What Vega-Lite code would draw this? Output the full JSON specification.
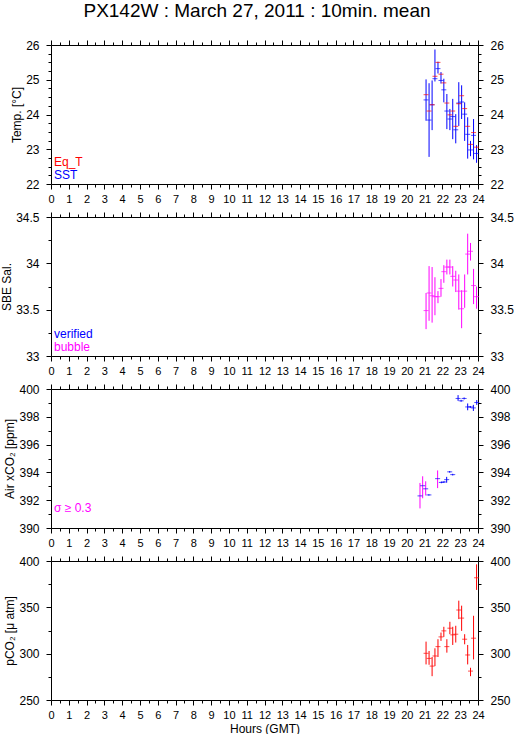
{
  "$schema": "https://vega.github.io/schema/vega-lite/v6.json",
  "background": "white",
  "padding": {"left": 0, "top": 2, "right": 0, "bottom": 0},
  "title": {"text": "PX142W : March 27, 2011 : 10min. mean", "font": "Liberation Sans", "fontSize": 19, "fontWeight": "normal", "color": "black", "anchor": "middle", "offset": 18},
  "spacing": 7,
  "config": {
    "view": {"stroke": null},
    "font": "Liberation Sans",
    "axis": {"domainColor": "black", "tickColor": "black", "labelColor": "black", "titleColor": "black", "labelFont": "Liberation Sans", "titleFont": "Liberation Sans", "titleFontSize": 12, "titleFontWeight": "normal", "grid": false, "tickSize": 5, "labelOverlap": false, "labelFlush": false, "domainWidth": 1, "tickWidth": 1},
    "axisX": {"labelFontSize": 11, "labelPadding": 4},
    "axisY": {"labelFontSize": 12, "labelPadding": 7, "titlePadding": 2},
    "legend": {"title": null, "symbolType": "circle", "symbolSize": 0, "symbolOpacity": 0, "symbolStrokeWidth": 0, "labelOffset": -12, "labelFont": "Liberation Sans", "labelFontSize": 12, "padding": 0, "rowPadding": 1}
  },
  "datasets": {
    "p1": [
      {"hour": 21.08, "var": "SST", "v": 24.42, "lo": 23.82, "hi": 25.01},
      {"hour": 21.25, "var": "SST", "v": 23.84, "lo": 22.78, "hi": 24.9},
      {"hour": 21.42, "var": "SST", "v": 24.28, "lo": 23.55, "hi": 24.98},
      {"hour": 21.58, "var": "SST", "v": 25.03, "lo": 24.95, "hi": 25.87},
      {"hour": 21.75, "var": "SST", "v": 25.32, "lo": 25.18, "hi": 25.52},
      {"hour": 21.92, "var": "SST", "v": 24.98, "lo": 24.89, "hi": 25.22},
      {"hour": 22.08, "var": "SST", "v": 24.71, "lo": 24.35, "hi": 25.03},
      {"hour": 22.25, "var": "SST", "v": 24.1, "lo": 23.58, "hi": 24.59},
      {"hour": 22.42, "var": "SST", "v": 23.87, "lo": 23.55, "hi": 24.16},
      {"hour": 22.58, "var": "SST", "v": 23.94, "lo": 23.29, "hi": 24.45},
      {"hour": 22.75, "var": "SST", "v": 23.56, "lo": 23.17, "hi": 24.01},
      {"hour": 22.92, "var": "SST", "v": 24.33, "lo": 23.67, "hi": 24.93},
      {"hour": 23.08, "var": "SST", "v": 24.36, "lo": 23.87, "hi": 24.84},
      {"hour": 23.25, "var": "SST", "v": 24.01, "lo": 23.24, "hi": 24.35},
      {"hour": 23.42, "var": "SST", "v": 23.43, "lo": 22.73, "hi": 23.92},
      {"hour": 23.58, "var": "SST", "v": 22.98, "lo": 22.8, "hi": 23.24},
      {"hour": 23.75, "var": "SST", "v": 23.4, "lo": 22.71, "hi": 23.87},
      {"hour": 23.92, "var": "SST", "v": 22.88, "lo": 22.61, "hi": 23.12},
      {"hour": 21.08, "var": "Eq_T", "v": 24.57},
      {"hour": 21.25, "var": "Eq_T", "v": 24.1},
      {"hour": 21.42, "var": "Eq_T", "v": 24.28},
      {"hour": 21.58, "var": "Eq_T", "v": 25.1},
      {"hour": 21.75, "var": "Eq_T", "v": 25.5},
      {"hour": 21.92, "var": "Eq_T", "v": 25.16},
      {"hour": 22.08, "var": "Eq_T", "v": 24.91},
      {"hour": 22.25, "var": "Eq_T", "v": 24.33},
      {"hour": 22.42, "var": "Eq_T", "v": 23.99},
      {"hour": 22.58, "var": "Eq_T", "v": 24.1},
      {"hour": 22.75, "var": "Eq_T", "v": 23.66},
      {"hour": 22.92, "var": "Eq_T", "v": 24.31},
      {"hour": 23.08, "var": "Eq_T", "v": 24.54},
      {"hour": 23.25, "var": "Eq_T", "v": 24.17},
      {"hour": 23.42, "var": "Eq_T", "v": 23.66},
      {"hour": 23.58, "var": "Eq_T", "v": 23.14},
      {"hour": 23.75, "var": "Eq_T", "v": 23.48},
      {"hour": 23.92, "var": "Eq_T", "v": 23.06}
    ],
    "p2": [
      {"hour": 21.08, "status": "bubble", "v": 33.49, "lo": 33.29, "hi": 33.68},
      {"hour": 21.25, "status": "bubble", "v": 33.68, "lo": 33.38, "hi": 33.97},
      {"hour": 21.42, "status": "bubble", "v": 33.65, "lo": 33.36, "hi": 33.96},
      {"hour": 21.58, "status": "bubble", "v": 33.64, "lo": 33.44, "hi": 33.85},
      {"hour": 21.75, "status": "bubble", "v": 33.64, "lo": 33.57, "hi": 33.7},
      {"hour": 21.92, "status": "bubble", "v": 33.73, "lo": 33.64, "hi": 33.83},
      {"hour": 22.08, "status": "bubble", "v": 33.91, "lo": 33.79, "hi": 33.98},
      {"hour": 22.25, "status": "bubble", "v": 33.96, "lo": 33.88, "hi": 34.04},
      {"hour": 22.42, "status": "bubble", "v": 33.96, "lo": 33.88, "hi": 34.04},
      {"hour": 22.58, "status": "bubble", "v": 33.86, "lo": 33.75, "hi": 33.97},
      {"hour": 22.75, "status": "bubble", "v": 33.82, "lo": 33.69, "hi": 33.92},
      {"hour": 22.92, "status": "bubble", "v": 33.7, "lo": 33.5, "hi": 33.88},
      {"hour": 23.08, "status": "bubble", "v": 33.51, "lo": 33.3, "hi": 33.71},
      {"hour": 23.25, "status": "bubble", "v": 33.7, "lo": 33.52, "hi": 33.88},
      {"hour": 23.42, "status": "bubble", "v": 34.1, "lo": 33.88, "hi": 34.32},
      {"hour": 23.58, "status": "bubble", "v": 34.13, "lo": 34.03, "hi": 34.22},
      {"hour": 23.75, "status": "bubble", "v": 33.76, "lo": 33.56, "hi": 33.94},
      {"hour": 23.92, "status": "bubble", "v": 33.64, "lo": 33.51, "hi": 33.75}
    ],
    "p3": [
      {"hour": 20.74, "flag": "σ ≥ 0.3", "v": 392.31, "lo": 391.41, "hi": 393.24},
      {"hour": 20.89, "flag": "σ ≥ 0.3", "v": 393.04, "lo": 392.14, "hi": 393.72},
      {"hour": 21.06, "flag": "σ ≥ 0.3", "v": 392.82, "lo": 392.34, "hi": 393.36},
      {"hour": 21.24, "flag": "normal", "v": 392.38, "lo": 392.33, "hi": 392.43},
      {"hour": 21.73, "flag": "σ ≥ 0.3", "v": 393.55, "lo": 392.87, "hi": 394.14},
      {"hour": 21.94, "flag": "normal", "v": 393.28, "lo": 393.22, "hi": 393.34},
      {"hour": 22.09, "flag": "normal", "v": 393.31, "lo": 393.25, "hi": 393.37},
      {"hour": 22.24, "flag": "normal", "v": 393.48, "lo": 393.26, "hi": 393.68},
      {"hour": 22.41, "flag": "normal", "v": 394.04, "lo": 393.98, "hi": 394.1},
      {"hour": 22.58, "flag": "normal", "v": 393.84, "lo": 393.78, "hi": 393.9},
      {"hour": 22.88, "flag": "normal", "v": 399.32, "lo": 399.15, "hi": 399.56},
      {"hour": 23.05, "flag": "normal", "v": 399.15, "lo": 399.08, "hi": 399.22},
      {"hour": 23.22, "flag": "normal", "v": 399.32, "lo": 399.25, "hi": 399.39},
      {"hour": 23.42, "flag": "normal", "v": 398.71, "lo": 398.47, "hi": 398.96},
      {"hour": 23.57, "flag": "normal", "v": 398.71, "lo": 398.64, "hi": 398.78},
      {"hour": 23.74, "flag": "normal", "v": 398.64, "lo": 398.42, "hi": 398.86},
      {"hour": 23.93, "flag": "normal", "v": 399.03, "lo": 398.86, "hi": 399.2}
    ],
    "p4": [
      {"hour": 21.08, "v": 300.4, "lo": 288.4, "hi": 313.0},
      {"hour": 21.25, "v": 294.9, "lo": 288.0, "hi": 302.9},
      {"hour": 21.42, "v": 286.6, "lo": 275.7, "hi": 296.4},
      {"hour": 21.58, "v": 297.5, "lo": 286.6, "hi": 305.8},
      {"hour": 21.75, "v": 307.6, "lo": 296.4, "hi": 315.6},
      {"hour": 21.92, "v": 318.1, "lo": 313.8, "hi": 322.8},
      {"hour": 22.08, "v": 324.6, "lo": 318.1, "hi": 329.0},
      {"hour": 22.25, "v": 307.6, "lo": 301.1, "hi": 315.6},
      {"hour": 22.42, "v": 327.5, "lo": 321.0, "hi": 334.4},
      {"hour": 22.58, "v": 320.3, "lo": 309.4, "hi": 329.0},
      {"hour": 22.75, "v": 321.0, "lo": 312.0, "hi": 330.1},
      {"hour": 22.92, "v": 347.1, "lo": 337.3, "hi": 357.2},
      {"hour": 23.08, "v": 338.4, "lo": 324.6, "hi": 351.8},
      {"hour": 23.25, "v": 315.6, "lo": 310.1, "hi": 321.0},
      {"hour": 23.42, "v": 298.6, "lo": 288.4, "hi": 309.4},
      {"hour": 23.58, "v": 281.2, "lo": 275.7, "hi": 284.8},
      {"hour": 23.75, "v": 316.7, "lo": 293.8, "hi": 340.9},
      {"hour": 23.92, "v": 381.9, "lo": 368.8, "hi": 396.4}
    ]
  },
  "vconcat": [
    {
      "width": 427, "height": 139,
      "resolve": {"axis": {"x": "independent", "y": "independent"}},
      "layer": [
        {
          "data": {"name": "p1"},
          "transform": [{"filter": "datum.var === 'SST'"}],
          "mark": {"type": "rule", "strokeWidth": 1},
          "encoding": {
            "x": {"field": "hour", "type": "quantitative", "scale": {"domain": [0, 24], "nice": false, "zero": false},
              "axis": {"orient": "bottom", "title": null, "values": [0,0.5,1,1.5,2,2.5,3,3.5,4,4.5,5,5.5,6,6.5,7,7.5,8,8.5,9,9.5,10,10.5,11,11.5,12,12.5,13,13.5,14,14.5,15,15.5,16,16.5,17,17.5,18,18.5,19,19.5,20,20.5,21,21.5,22,22.5,23,23.5,24],
                "labelExpr": "datum.value % 1 === 0 ? '' + datum.value : ''",
                "tickSize": {"expr": "datum.value % 1 === 0 ? 5 : 3"}}},
            "y": {"field": "lo", "type": "quantitative", "scale": {"domain": [22, 26], "nice": false, "zero": false},
              "axis": {"orient": "left", "title": "Temp. [°C]", "values": [22,22.25,22.5,22.75,23,23.25,23.5,23.75,24,24.25,24.5,24.75,25,25.25,25.5,25.75,26],
                "labelExpr": "datum.value % 1 === 0 ? '' + datum.value : ''",
                "tickSize": {"expr": "datum.value % 1 === 0 ? 5 : 3"}}},
            "y2": {"field": "hi"},
            "color": {"field": "var", "type": "nominal", "scale": {"domain": ["Eq_T", "SST"], "range": ["#ff0000", "#0000ff"]},
              "legend": {"orient": "bottom-left", "offset": 3, "symbolType": "circle", "symbolSize": 0, "labelOffset": -12, "labelColor": {"expr": "datum.value === 'Eq_T' ? '#ff0000' : '#0000ff'"}}}
          }
        },
        {
          "data": {"name": "p1"},
          "mark": {"type": "tick", "orient": "horizontal", "size": 5, "thickness": 1},
          "encoding": {
            "x": {"field": "hour", "type": "quantitative", "scale": {"domain": [0, 24], "nice": false, "zero": false},
              "axis": {"orient": "top", "title": null, "labels": false, "values": [0,0.5,1,1.5,2,2.5,3,3.5,4,4.5,5,5.5,6,6.5,7,7.5,8,8.5,9,9.5,10,10.5,11,11.5,12,12.5,13,13.5,14,14.5,15,15.5,16,16.5,17,17.5,18,18.5,19,19.5,20,20.5,21,21.5,22,22.5,23,23.5,24],
                "tickSize": {"expr": "datum.value % 1 === 0 ? 5 : 3"}}},
            "y": {"field": "v", "type": "quantitative", "scale": {"domain": [22, 26], "nice": false, "zero": false},
              "axis": {"orient": "right", "title": null, "values": [22,22.25,22.5,22.75,23,23.25,23.5,23.75,24,24.25,24.5,24.75,25,25.25,25.5,25.75,26],
                "labelExpr": "datum.value % 1 === 0 ? '' + datum.value : ''",
                "tickSize": {"expr": "datum.value % 1 === 0 ? 5 : 3"}}},
            "color": {"field": "var", "type": "nominal", "scale": {"domain": ["Eq_T", "SST"], "range": ["#ff0000", "#0000ff"]},
              "legend": {"orient": "bottom-left", "offset": 3, "symbolType": "circle", "symbolSize": 0, "labelOffset": -12, "labelColor": {"expr": "datum.value === 'Eq_T' ? '#ff0000' : '#0000ff'"}}}
          }
        }
      ]
    },
    {
      "width": 427, "height": 139,
      "resolve": {"axis": {"x": "independent", "y": "independent"}},
      "layer": [
        {
          "data": {"name": "p2"},
          "mark": {"type": "rule", "strokeWidth": 1},
          "encoding": {
            "x": {"field": "hour", "type": "quantitative", "scale": {"domain": [0, 24], "nice": false, "zero": false},
              "axis": {"orient": "bottom", "title": null, "values": [0,0.5,1,1.5,2,2.5,3,3.5,4,4.5,5,5.5,6,6.5,7,7.5,8,8.5,9,9.5,10,10.5,11,11.5,12,12.5,13,13.5,14,14.5,15,15.5,16,16.5,17,17.5,18,18.5,19,19.5,20,20.5,21,21.5,22,22.5,23,23.5,24],
                "labelExpr": "datum.value % 1 === 0 ? '' + datum.value : ''",
                "tickSize": {"expr": "datum.value % 1 === 0 ? 5 : 3"}}},
            "y": {"field": "lo", "type": "quantitative", "scale": {"domain": [33, 34.5], "nice": false, "zero": false},
              "axis": {"orient": "left", "title": "SBE Sal.", "values": [33,33.25,33.5,33.75,34,34.25,34.5],
                "labelExpr": "(datum.value * 2) % 1 === 0 ? '' + datum.value : ''",
                "tickSize": {"expr": "(datum.value * 2) % 1 === 0 ? 5 : 3"}}},
            "y2": {"field": "hi"},
            "color": {"field": "status", "type": "nominal", "scale": {"domain": ["verified", "bubble"], "range": ["#0000ff", "#ff00ff"]},
              "legend": {"orient": "bottom-left", "offset": 3, "symbolType": "circle", "symbolSize": 0, "labelOffset": -12, "labelColor": {"expr": "datum.value === 'verified' ? '#0000ff' : '#ff00ff'"}}}
          }
        },
        {
          "data": {"name": "p2"},
          "mark": {"type": "tick", "orient": "horizontal", "size": 5, "thickness": 1},
          "encoding": {
            "x": {"field": "hour", "type": "quantitative", "scale": {"domain": [0, 24], "nice": false, "zero": false},
              "axis": {"orient": "top", "title": null, "labels": false, "values": [0,0.5,1,1.5,2,2.5,3,3.5,4,4.5,5,5.5,6,6.5,7,7.5,8,8.5,9,9.5,10,10.5,11,11.5,12,12.5,13,13.5,14,14.5,15,15.5,16,16.5,17,17.5,18,18.5,19,19.5,20,20.5,21,21.5,22,22.5,23,23.5,24],
                "tickSize": {"expr": "datum.value % 1 === 0 ? 5 : 3"}}},
            "y": {"field": "v", "type": "quantitative", "scale": {"domain": [33, 34.5], "nice": false, "zero": false},
              "axis": {"orient": "right", "title": null, "values": [33,33.25,33.5,33.75,34,34.25,34.5],
                "labelExpr": "(datum.value * 2) % 1 === 0 ? '' + datum.value : ''",
                "tickSize": {"expr": "(datum.value * 2) % 1 === 0 ? 5 : 3"}}},
            "color": {"field": "status", "type": "nominal", "scale": {"domain": ["verified", "bubble"], "range": ["#0000ff", "#ff00ff"]},
              "legend": {"orient": "bottom-left", "offset": 3, "symbolType": "circle", "symbolSize": 0, "labelOffset": -12, "labelColor": {"expr": "datum.value === 'verified' ? '#0000ff' : '#ff00ff'"}}}
          }
        }
      ]
    },
    {
      "width": 427, "height": 139,
      "resolve": {"axis": {"x": "independent", "y": "independent"}},
      "layer": [
        {
          "data": {"name": "p3"},
          "mark": {"type": "rule", "strokeWidth": 1},
          "encoding": {
            "x": {"field": "hour", "type": "quantitative", "scale": {"domain": [0, 24], "nice": false, "zero": false},
              "axis": {"orient": "bottom", "title": null, "values": [0,0.5,1,1.5,2,2.5,3,3.5,4,4.5,5,5.5,6,6.5,7,7.5,8,8.5,9,9.5,10,10.5,11,11.5,12,12.5,13,13.5,14,14.5,15,15.5,16,16.5,17,17.5,18,18.5,19,19.5,20,20.5,21,21.5,22,22.5,23,23.5,24],
                "labelExpr": "datum.value % 1 === 0 ? '' + datum.value : ''",
                "tickSize": {"expr": "datum.value % 1 === 0 ? 5 : 3"}}},
            "y": {"field": "lo", "type": "quantitative", "scale": {"domain": [390, 400], "nice": false, "zero": false},
              "axis": {"orient": "left", "title": "Air xCO₂ [ppm]", "values": [390,391,392,393,394,395,396,397,398,399,400],
                "labelExpr": "datum.value % 2 === 0 ? '' + datum.value : ''",
                "tickSize": {"expr": "datum.value % 2 === 0 ? 5 : 3"}}},
            "y2": {"field": "hi"},
            "color": {"field": "flag", "type": "nominal", "scale": {"domain": ["σ ≥ 0.3", "normal"], "range": ["#ff00ff", "#0000ff"]},
              "legend": {"orient": "none", "legendX": 3, "legendY": 113, "values": ["σ ≥ 0.3"], "symbolType": "circle", "symbolSize": 0, "labelOffset": -12, "labelColor": "#ff00ff"}}
          }
        },
        {
          "data": {"name": "p3"},
          "mark": {"type": "tick", "orient": "horizontal", "size": 5, "thickness": 1, "color": "#0000ff"},
          "encoding": {
            "x": {"field": "hour", "type": "quantitative", "scale": {"domain": [0, 24], "nice": false, "zero": false},
              "axis": {"orient": "top", "title": null, "labels": false, "values": [0,0.5,1,1.5,2,2.5,3,3.5,4,4.5,5,5.5,6,6.5,7,7.5,8,8.5,9,9.5,10,10.5,11,11.5,12,12.5,13,13.5,14,14.5,15,15.5,16,16.5,17,17.5,18,18.5,19,19.5,20,20.5,21,21.5,22,22.5,23,23.5,24],
                "tickSize": {"expr": "datum.value % 1 === 0 ? 5 : 3"}}},
            "y": {"field": "v", "type": "quantitative", "scale": {"domain": [390, 400], "nice": false, "zero": false},
              "axis": {"orient": "right", "title": null, "values": [390,391,392,393,394,395,396,397,398,399,400],
                "labelExpr": "datum.value % 2 === 0 ? '' + datum.value : ''",
                "tickSize": {"expr": "datum.value % 2 === 0 ? 5 : 3"}}}
          }
        }
      ]
    },
    {
      "width": 427, "height": 139,
      "resolve": {"axis": {"x": "independent", "y": "independent"}},
      "layer": [
        {
          "data": {"name": "p4"},
          "mark": {"type": "rule", "strokeWidth": 1, "color": "#ff0000"},
          "encoding": {
            "x": {"field": "hour", "type": "quantitative", "scale": {"domain": [0, 24], "nice": false, "zero": false},
              "axis": {"orient": "bottom", "title": "Hours (GMT)", "titlePadding": 3, "titleFontSize": 12, "values": [0,0.5,1,1.5,2,2.5,3,3.5,4,4.5,5,5.5,6,6.5,7,7.5,8,8.5,9,9.5,10,10.5,11,11.5,12,12.5,13,13.5,14,14.5,15,15.5,16,16.5,17,17.5,18,18.5,19,19.5,20,20.5,21,21.5,22,22.5,23,23.5,24],
                "labelExpr": "datum.value % 1 === 0 ? '' + datum.value : ''",
                "tickSize": {"expr": "datum.value % 1 === 0 ? 5 : 3"}}},
            "y": {"field": "lo", "type": "quantitative", "scale": {"domain": [250, 400], "nice": false, "zero": false},
              "axis": {"orient": "left", "title": "pCO₂ [μ atm]", "values": [250,275,300,325,350,375,400],
                "labelExpr": "datum.value % 50 === 0 ? '' + datum.value : ''",
                "tickSize": {"expr": "datum.value % 50 === 0 ? 5 : 3"}}},
            "y2": {"field": "hi"}
          }
        },
        {
          "data": {"name": "p4"},
          "mark": {"type": "tick", "orient": "horizontal", "size": 5, "thickness": 1, "color": "#ff0000"},
          "encoding": {
            "x": {"field": "hour", "type": "quantitative", "scale": {"domain": [0, 24], "nice": false, "zero": false},
              "axis": {"orient": "top", "title": null, "labels": false, "values": [0,0.5,1,1.5,2,2.5,3,3.5,4,4.5,5,5.5,6,6.5,7,7.5,8,8.5,9,9.5,10,10.5,11,11.5,12,12.5,13,13.5,14,14.5,15,15.5,16,16.5,17,17.5,18,18.5,19,19.5,20,20.5,21,21.5,22,22.5,23,23.5,24],
                "tickSize": {"expr": "datum.value % 1 === 0 ? 5 : 3"}}},
            "y": {"field": "v", "type": "quantitative", "scale": {"domain": [250, 400], "nice": false, "zero": false},
              "axis": {"orient": "right", "title": null, "values": [250,275,300,325,350,375,400],
                "labelExpr": "datum.value % 50 === 0 ? '' + datum.value : ''",
                "tickSize": {"expr": "datum.value % 50 === 0 ? 5 : 3"}}}
          }
        }
      ]
    }
  ],
  "resolve": {"scale": {"color": "independent", "y": "independent"}, "legend": {"color": "independent"}}
}
